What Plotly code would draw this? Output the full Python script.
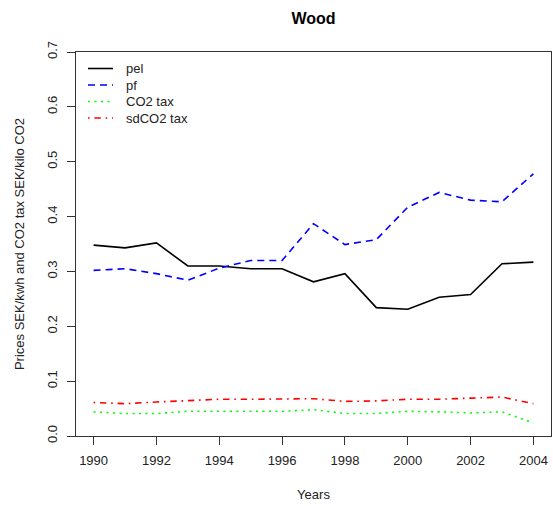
import plotly.graph_objects as go

# Annual series, 1990-2004
years = list(range(1990, 2005))
pel = [0.348, 0.343, 0.352, 0.310, 0.310, 0.305, 0.305, 0.281, 0.296,
       0.234, 0.231, 0.253, 0.258, 0.314, 0.317]
pf = [0.302, 0.305, 0.296, 0.284, 0.306, 0.320, 0.320, 0.387, 0.349,
      0.358, 0.417, 0.444, 0.430, 0.427, 0.478]
co2_tax = [0.044, 0.041, 0.041, 0.045, 0.045, 0.045, 0.045, 0.048, 0.041,
           0.041, 0.045, 0.044, 0.042, 0.044, 0.024]
sdco2_tax = [0.061, 0.059, 0.062, 0.064, 0.067, 0.067, 0.067, 0.068, 0.063,
             0.064, 0.067, 0.067, 0.069, 0.071, 0.059]

series_names = ["pel", "pf", "CO2 tax", "sdCO2 tax"]
x_ticks = list(range(1990, 2005, 2))
y_ticks = [0.0, 0.1, 0.2, 0.3, 0.4, 0.5, 0.6, 0.7]

FONT = "Liberation Sans, Arial, Helvetica, sans-serif"
AXIS_COLOR = "#333333"
TEXT_COLOR = "#222222"

W, H = 553, 506
M_L, M_R, M_T, M_B = 76, 2, 52, 70
PLOT_W = W - M_L - M_R
PLOT_H = H - M_T - M_B

styles = [
    ("#000000", "solid"),
    ("#0000FF", "7px,5px"),
    ("#00FF00", "2px,4.5px"),
    ("#FF0000", "1.6px,4.8px,6.4px,4.8px"),
]
values = [pel, pf, co2_tax, sdco2_tax]

fig = go.Figure()
for name, vals, (color, dash) in zip(series_names, values, styles):
    fig.add_trace(go.Scatter(
        x=years, y=vals, name=name, mode="lines", showlegend=False,
        line=dict(color=color, width=1.6, dash=dash),
    ))


def px_x(px):
    return (px - M_L) / PLOT_W


def px_y(py):
    return (H - M_B - py) / PLOT_H


# Key in the top-left corner of the panel: short line sample + label per series
row0, row_gap = 68.5, 16.5
for i, (name, (color, dash)) in enumerate(zip(series_names, styles)):
    yy = px_y(row0 + i * row_gap)
    fig.add_shape(type="line", xref="paper", yref="paper",
                  x0=px_x(88), x1=px_x(113), y0=yy, y1=yy,
                  line=dict(color=color, width=1.6, dash=dash))
    fig.add_annotation(xref="paper", yref="paper", x=px_x(124), y=yy,
                       text=name, showarrow=False, xanchor="left",
                       yanchor="middle",
                       font=dict(family=FONT, size=13, color=TEXT_COLOR))

fig.update_layout(
    width=W, height=H,
    margin=dict(l=M_L, r=M_R, t=M_T, b=M_B),
    paper_bgcolor="white", plot_bgcolor="white",
    font=dict(family=FONT, size=13, color=TEXT_COLOR),
    title=dict(text="<b>Wood</b>", x=0.5, xref="paper", y=1 - 18 / H,
               yref="container", xanchor="center", yanchor="middle",
               font=dict(family=FONT, size=16, color="#000000")),
    showlegend=False,
)

fig.update_xaxes(
    range=[1989.44, 2004.56], tickmode="array", tickvals=x_ticks,
    ticktext=[str(v) for v in x_ticks],
    showgrid=False, zeroline=False, showline=True, mirror=True,
    linecolor=AXIS_COLOR, linewidth=1, ticks="outside", ticklen=8,
    tickcolor=AXIS_COLOR, tickfont=dict(size=13), ticklabelstandoff=4,
    title=dict(text="Years", standoff=23, font=dict(size=13)),
)
fig.update_yaxes(
    range=[0, 0.7], tickmode="array", tickvals=y_ticks,
    ticktext=[f"{v:.1f}" for v in y_ticks], tickangle=-90,
    showgrid=False, zeroline=False, showline=True, mirror=True,
    linecolor=AXIS_COLOR, linewidth=1, ticks="outside", ticklen=8,
    tickcolor=AXIS_COLOR, tickfont=dict(size=13), ticklabelstandoff=5,
    title=dict(text="Prices SEK/kwh and CO2 tax SEK/kilo CO2", standoff=17,
               font=dict(size=13)),
)

fig.write_html("out.html")
